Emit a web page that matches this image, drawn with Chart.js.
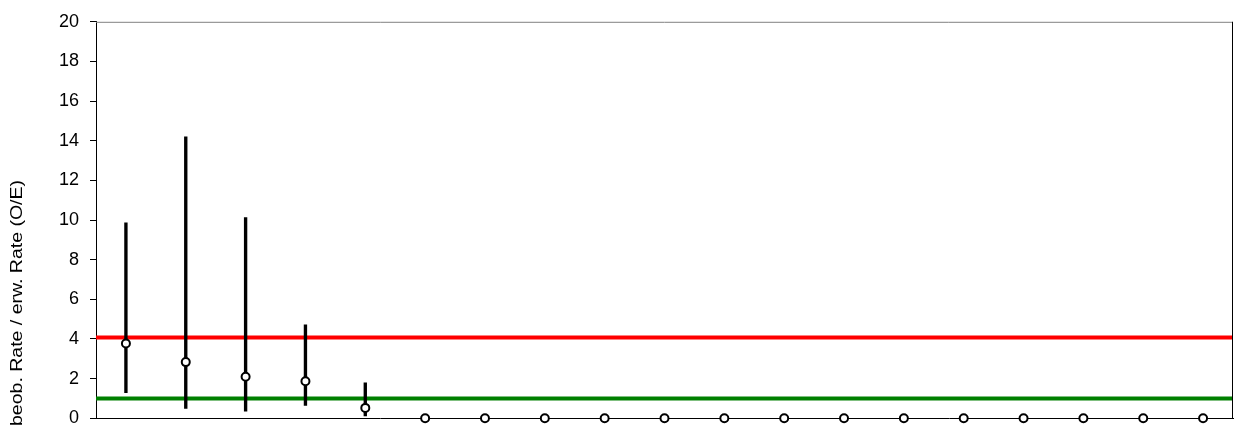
<!DOCTYPE html>
<html>
<head>
<meta charset="utf-8">
<script src="https://cdn.jsdelivr.net/npm/chart.js@4/dist/chart.umd.min.js"></script>
<style>
  html, body { margin: 0; padding: 0; background: #fff; overflow: hidden; }
  #wrap { width: 1239px; height: 440px; position: relative; }
</style>
</head>
<body>
<div id="wrap"><canvas id="myChart"></canvas></div>
<script>
// data
const categories = ['1','2','3','4','5','6','7','8','9','10','11','12','13','14','15','16','17','18','19'];
const observed = [3.77, 2.83, 2.09, 1.86, 0.52, 0, 0, 0, 0, 0, 0, 0, 0, 0, 0, 0, 0, 0, 0];
const ciUpper = [9.86, 14.2, 10.12, 4.71, 1.79, null, null, null, null, null, null, null, null, null, null, null, null, null, null];
const ciLower = [1.29, 0.49, 0.35, 0.64, 0.12, null, null, null, null, null, null, null, null, null, null, null, null, null, null];
const redLevel = 4.07;
const greenLevel = 1.0;
const yTicks = [0, 2, 4, 6, 8, 10, 12, 14, 16, 18, 20];
const yTitle = 'beob. Rate / erw. Rate (O/E)';

const FONT = '"Liberation Sans", Arial, sans-serif';

// error bars as floating bars
const ciRanges = ciUpper.map((hi, i) => hi == null ? null : [ciLower[i], hi]);

// frame + rotated axis title
const framePlugin = {
  id: 'frame',
  afterDraw(chart) {
    const { ctx, chartArea: a } = chart;
    ctx.save();
    ctx.lineWidth = 1;
    ctx.strokeStyle = '#808080';
    ctx.beginPath();
    ctx.moveTo(a.left, a.top + 0.5);
    ctx.lineTo(a.right, a.top + 0.5);
    ctx.stroke();
    ctx.strokeStyle = '#000';
    ctx.beginPath();
    ctx.moveTo(a.right - 0.5, a.top);
    ctx.lineTo(a.right - 0.5, a.bottom);
    ctx.stroke();

    // axis title, stretched like the original
    ctx.font = '16px ' + FONT;
    ctx.fillStyle = '#000';
    ctx.textAlign = 'center';
    ctx.textBaseline = 'middle';
    const w = ctx.measureText(yTitle).width;
    ctx.translate(18, 303);
    ctx.rotate(-Math.PI / 2);
    ctx.scale(246 / w, 1);
    ctx.fillText(yTitle, 0, 0);
    ctx.restore();
  }
};

new Chart(document.getElementById('myChart'), {
  type: 'bar',
  data: {
    labels: categories,
    datasets: [
      {
        type: 'line',
        label: 'rot',
        data: [{ x: 0, y: redLevel }, { x: 1, y: redLevel }],
        xAxisID: 'xLine',
        borderColor: '#ff0000',
        borderWidth: 4,
        pointRadius: 0,
        order: 4
      },
      {
        type: 'line',
        label: 'grün',
        data: [{ x: 0, y: greenLevel }, { x: 1, y: greenLevel }],
        xAxisID: 'xLine',
        borderColor: '#008000',
        borderWidth: 4,
        pointRadius: 0,
        order: 3
      },
      {
        type: 'bar',
        label: 'KI',
        data: ciRanges,
        backgroundColor: '#000',
        barThickness: 2.7,
        grouped: false,
        order: 2
      },
      {
        type: 'line',
        label: 'O/E',
        data: observed,
        showLine: false,
        clip: false,
        pointRadius: 4,
        pointBorderWidth: 2,
        pointBackgroundColor: '#fff',
        pointBorderColor: '#000',
        order: 1
      }
    ]
  },
  options: {
    animation: false,
    responsive: true,
    maintainAspectRatio: false,
    layout: { padding: { top: 20, right: 1, left: 0, bottom: 0 } },
    plugins: { legend: { display: false }, tooltip: { enabled: false } },
    scales: {
      x: {
        type: 'category',
        offset: true,
        ticks: { display: false },
        grid: { display: false },
        border: { display: true, color: '#000', width: 1 },
        afterFit(scale) { scale.height = 6; }
      },
      xLine: {
        type: 'linear',
        display: false,
        offset: false,
        grace: 0,
        min: 0,
        max: 1
      },
      y: {
        min: 0,
        max: 20,
        afterBuildTicks(scale) { scale.ticks = yTicks.map(v => ({ value: v })); },
        ticks: {
          color: '#000',
          padding: 11,
          font: { family: FONT, size: 18 }
        },
        grid: { drawOnChartArea: false, drawTicks: true, tickLength: 6, color: '#000' },
        border: { display: true, color: '#000', width: 1 },
        afterFit(scale) { scale.width = 96; }
      }
    }
  },
  plugins: [framePlugin]
});
</script>
</body>
</html>
